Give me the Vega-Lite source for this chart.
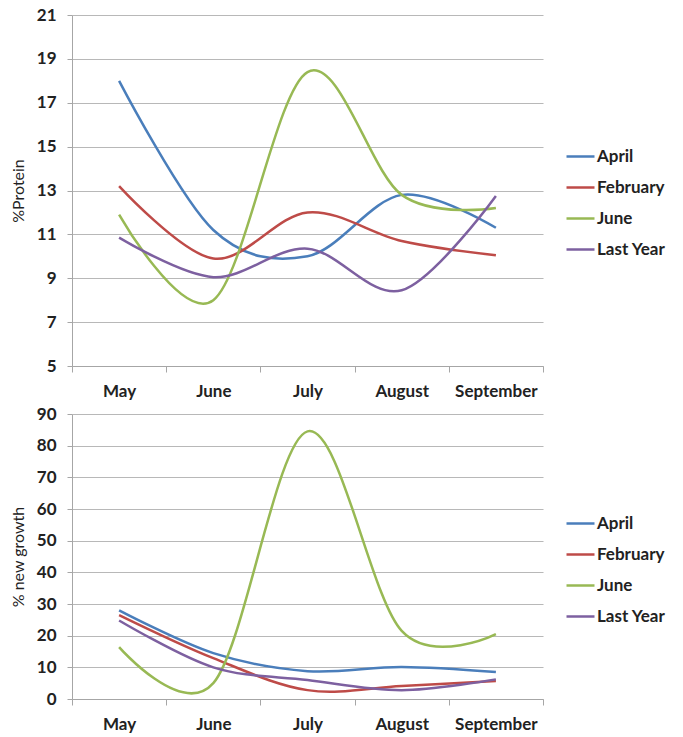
{
  "$schema": "https://vega.github.io/schema/vega-lite/v6.json",
  "background": "white",
  "padding": {"left": 10, "top": 6, "right": 5, "bottom": 5},
  "spacing": 6,
  "config": {
    "font": "Lato",
    "view": {"stroke": null},
    "axis": {
      "labelFont": "Lato", "labelFontWeight": "bold", "labelFontSize": 17, "labelColor": "#222222",
      "domainColor": "#a6a6a6", "tickColor": "#a6a6a6", "gridColor": "#b8b8b8", "gridWidth": 1.2,
      "titleFont": "Lato", "titleFontWeight": "normal", "titleFontSize": 16, "titleColor": "#222222"
    },
    "legend": {"labelFont": "Lato", "labelFontWeight": "bold", "labelFontSize": 17, "labelColor": "#222222"}
  },
  "datasets": {
    "protein": [
      {"month": "May", "series": "April", "value": 18.0},
      {"month": "June", "series": "April", "value": 11.2},
      {"month": "July", "series": "April", "value": 10.0},
      {"month": "August", "series": "April", "value": 12.8},
      {"month": "September", "series": "April", "value": 11.3},
      {"month": "May", "series": "February", "value": 13.2},
      {"month": "June", "series": "February", "value": 9.9},
      {"month": "July", "series": "February", "value": 12.0},
      {"month": "August", "series": "February", "value": 10.7},
      {"month": "September", "series": "February", "value": 10.05},
      {"month": "May", "series": "June", "value": 11.9},
      {"month": "June", "series": "June", "value": 8.0},
      {"month": "July", "series": "June", "value": 18.4},
      {"month": "August", "series": "June", "value": 12.8},
      {"month": "September", "series": "June", "value": 12.2},
      {"month": "May", "series": "Last Year", "value": 10.85},
      {"month": "June", "series": "Last Year", "value": 9.05},
      {"month": "July", "series": "Last Year", "value": 10.35},
      {"month": "August", "series": "Last Year", "value": 8.45},
      {"month": "September", "series": "Last Year", "value": 12.75}
    ],
    "growth": [
      {"month": "May", "series": "April", "value": 28.0},
      {"month": "June", "series": "April", "value": 14.5},
      {"month": "July", "series": "April", "value": 8.8},
      {"month": "August", "series": "April", "value": 10.1},
      {"month": "September", "series": "April", "value": 8.5},
      {"month": "May", "series": "February", "value": 26.5},
      {"month": "June", "series": "February", "value": 12.9},
      {"month": "July", "series": "February", "value": 2.8},
      {"month": "August", "series": "February", "value": 4.1},
      {"month": "September", "series": "February", "value": 5.7},
      {"month": "May", "series": "June", "value": 16.4},
      {"month": "June", "series": "June", "value": 5.0},
      {"month": "July", "series": "June", "value": 84.5},
      {"month": "August", "series": "June", "value": 21.5},
      {"month": "September", "series": "June", "value": 20.5},
      {"month": "May", "series": "Last Year", "value": 24.8},
      {"month": "June", "series": "Last Year", "value": 10.0},
      {"month": "July", "series": "Last Year", "value": 6.0},
      {"month": "August", "series": "Last Year", "value": 2.8},
      {"month": "September", "series": "Last Year", "value": 6.2}
    ]
  },
  "resolve": {"scale": {"color": "independent"}, "legend": {"color": "independent"}},
  "vconcat": [
    {
      "width": 471,
      "height": 351,
      "data": {"name": "protein"},
      "mark": {"type": "line", "interpolate": "cardinal", "strokeWidth": 2.5},
      "encoding": {
        "x": {
          "field": "month", "type": "nominal",
          "sort": ["May", "June", "July", "August", "September"],
          "scale": {"type": "band", "paddingInner": 0, "paddingOuter": 0},
          "bandPosition": 0.5,
          "axis": {"title": null, "labelAngle": 0, "tickBand": "extent", "tickSize": 6, "labelPadding": 11, "grid": false}
        },
        "y": {
          "field": "value", "type": "quantitative",
          "scale": {"domain": [5, 21], "nice": false, "zero": false},
          "axis": {"values": [5, 7, 9, 11, 13, 15, 17, 19, 21], "title": "%Protein", "tickSize": 5, "labelPadding": 11, "titlePadding": 10}
        },
        "color": {
          "field": "series", "type": "nominal",
          "scale": {"domain": ["April", "February", "June", "Last Year"], "range": ["#4A7EBB", "#BE4B48", "#98B954", "#7D60A0"]},
          "legend": {"title": null, "orient": "none", "legendX": 493, "legendY": 126, "symbolType": "stroke", "symbolSize": 784, "symbolStrokeWidth": 2.5, "labelOffset": 1, "rowPadding": 7}
        }
      }
    },
    {
      "width": 471,
      "height": 285,
      "data": {"name": "growth"},
      "mark": {"type": "line", "interpolate": "cardinal", "strokeWidth": 2.5},
      "encoding": {
        "x": {
          "field": "month", "type": "nominal",
          "sort": ["May", "June", "July", "August", "September"],
          "scale": {"type": "band", "paddingInner": 0, "paddingOuter": 0},
          "bandPosition": 0.5,
          "axis": {"title": null, "labelAngle": 0, "tickBand": "extent", "tickSize": 6, "labelPadding": 11, "grid": false}
        },
        "y": {
          "field": "value", "type": "quantitative",
          "scale": {"domain": [0, 90], "nice": false},
          "axis": {"values": [0, 10, 20, 30, 40, 50, 60, 70, 80, 90], "title": "% new growth", "tickSize": 5, "labelPadding": 11, "titlePadding": 10}
        },
        "color": {
          "field": "series", "type": "nominal",
          "scale": {"domain": ["April", "February", "June", "Last Year"], "range": ["#4A7EBB", "#BE4B48", "#98B954", "#7D60A0"]},
          "legend": {"title": null, "orient": "none", "legendX": 493, "legendY": 94, "symbolType": "stroke", "symbolSize": 784, "symbolStrokeWidth": 2.5, "labelOffset": 1, "rowPadding": 7}
        }
      }
    }
  ]
}
